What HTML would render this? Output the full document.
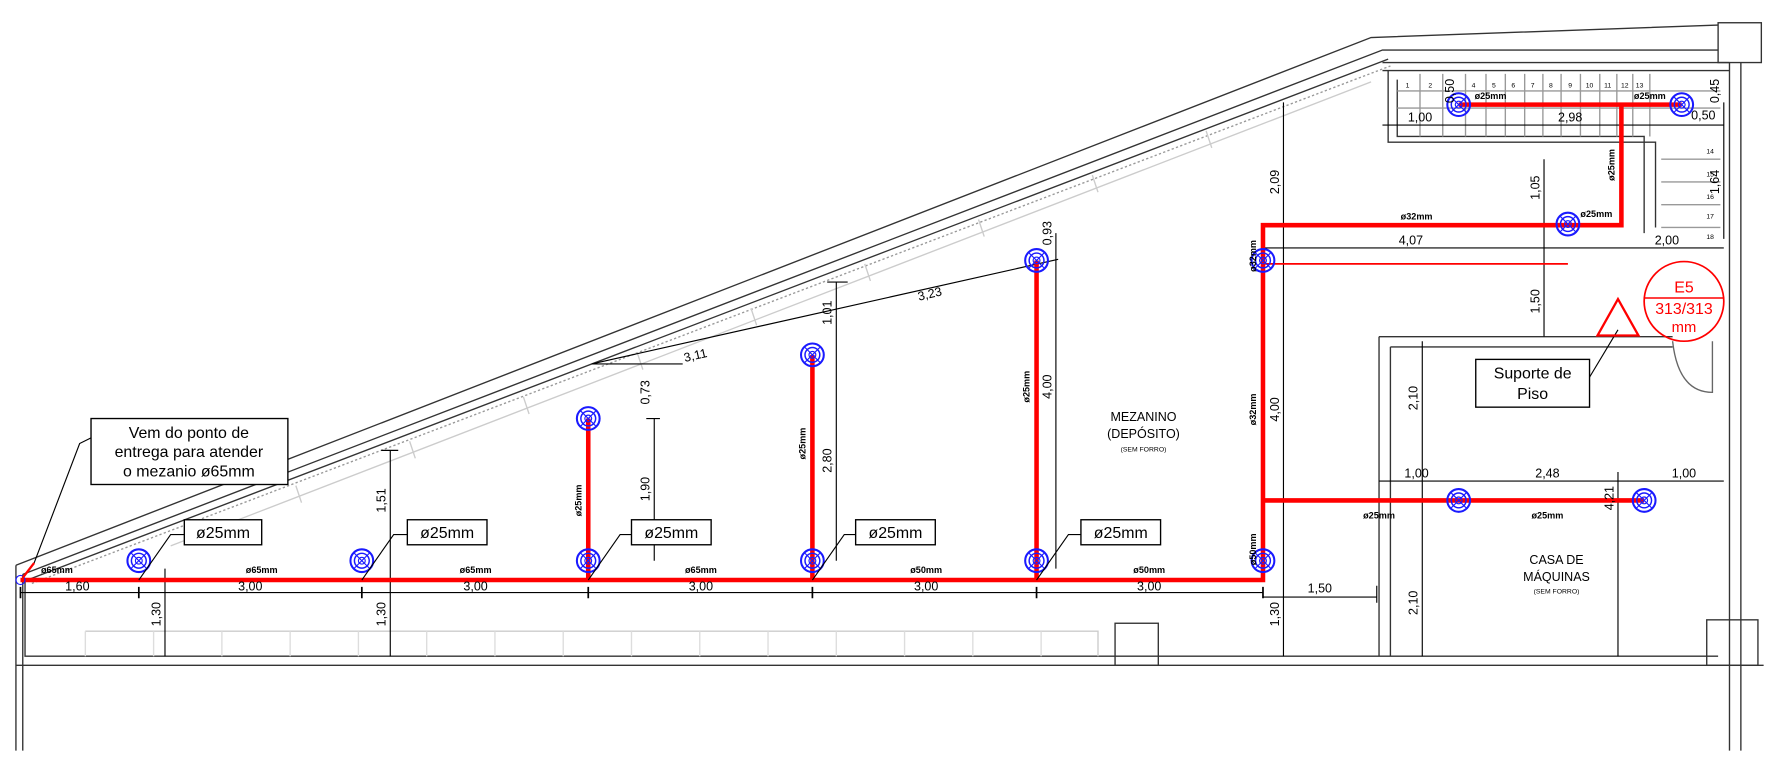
<!DOCTYPE html>
<html><head><meta charset="utf-8"><style>
html,body{margin:0;padding:0;background:#fff;}
svg{display:block;}
text{font-family:"Liberation Sans",sans-serif;fill:#000;}
.d{font-size:11px;}
.s{font-size:8px;font-weight:bold;}
</style></head><body>
<svg width="1775" height="762" viewBox="0 0 1560 670" preserveAspectRatio="none" xmlns="http://www.w3.org/2000/svg">
<defs>
<g id="sp"><circle r="10" fill="none" stroke="#1a1aff" stroke-width="1.8"/><circle r="6.5" fill="none" stroke="#1a1aff" stroke-width="1.3"/><circle r="3" fill="none" stroke="#1a1aff" stroke-width="1"/><path d="M-7,-7L7,7M-7,7L7,-7" stroke="#1a1aff" stroke-width="1"/></g>
</defs>
<g fill="none" stroke="#333" stroke-width="1.2">
<!-- roof -->
<path d="M14,497 L1205,33 L1510,22"/>
<path d="M20,505 L1215,44 L1510,44"/>
<path d="M24,510 L1220,52"/>
<path d="M28,513 L1222,58" stroke="#999" stroke-dasharray="2,2"/>
<path d="M150,480 L1205,72" stroke="#ccc"/>
<g stroke="#ccc">
<path d="M260,427 L265,442 M360,388 L365,403 M460,349 L465,364 M560,310 L565,325 M660,271 L665,286 M760,232 L765,247 M860,193 L865,208 M960,154 L965,169 M1060,115 L1065,130"/>
</g>
<!-- walls -->
<path d="M14,497 V660 M20,505 V660"/>
<path d="M22,510 V577 H1510"/>
<path d="M14,585 H1550"/>
<path d="M1520,55 V660 M1530,55 V660"/>
<rect x="1510" y="20" width="38" height="35"/>
<rect x="980" y="548" width="38" height="37"/>
<rect x="1500" y="545" width="45" height="40"/>
<path d="M75,555 H965 V577" stroke="#ccc"/>
<path d="M75,555V577M135,555V577M195,555V577M255,555V577M315,555V577M375,555V577M435,555V577M495,555V577M555,555V577M615,555V577M675,555V577M735,555V577M795,555V577M855,555V577M915,555V577" stroke="#ddd"/>
<!-- stair -->
<path d="M1215,55 H1520 M1215,62 H1520 M1220,62 V125 H1455 V200 M1228,70 V120 H1445 V205"/>
<path d="M1228,80 H1512 M1228,95 H1512" stroke="#999"/>
<path d="M1248,65V120M1268,65V120M1288,65V120M1306,65V120M1323,65V120M1340,65V120M1356,65V120M1372,65V120M1389,65V120M1406,65V120M1421,65V120M1435,65V120M1450,65V120" stroke="#999"/>
<path d="M1460,140 H1512 M1460,160 H1512 M1460,180 H1512 M1460,200 H1512" stroke="#999"/>
<!-- machine room -->
<path d="M1212,296 H1470 M1212,296 V577 M1222,305 V577 M1222,305 H1470"/>
<path d="M1470,300 Q1475,345 1505,345 V300" stroke="#666"/>
<!-- dims -->
<g stroke="#000" stroke-width="1">
<path d="M18,521 H1110 M1110,525 H1210 M1210,515 V530"/>
<path d="M145,500 V577 M343,396 V577 M1128,90 V577 M335,396 H350"/>
<path d="M575,368 V493 M735,248 V493 M928,205 V500 M568,368 H580 M727,248 H745"/>
<path d="M520,320 L930,228 M520,320 H600"/>
<path d="M1357,140 V296 M1110,218 H1515 M1250,300 V577 M1422,415 V577 M1212,423 H1515 M1215,110 H1515 M1515,90 V210"/>
</g>
</g>
<g stroke="#000" stroke-width="1.5">
<path d="M18,516V526M122,516V526M318,516V526M517,516V526M714,516V526M911,516V526M1110,516V526"/>
</g>
<!-- red pipes -->
<g stroke="#f00" stroke-width="4" fill="none">
<path d="M18,510 H1110 V198 H1425 V92"/>
<path d="M1282,92 H1478"/>
<path d="M1110,440 H1445"/>
<path d="M517,510 V368 M714,510 V312 M911,510 V229"/>
</g>
<path d="M1110,232 H1378" stroke="#f00" stroke-width="1.5"/>
<use href="#sp" x="122" y="493"/><use href="#sp" x="318" y="493"/><use href="#sp" x="517" y="493"/>
<use href="#sp" x="714" y="493"/><use href="#sp" x="911" y="493"/><use href="#sp" x="1110" y="493"/>
<use href="#sp" x="517" y="368"/><use href="#sp" x="714" y="312"/><use href="#sp" x="911" y="229"/>
<use href="#sp" x="1110" y="229"/><use href="#sp" x="1378" y="197"/><use href="#sp" x="1282" y="92"/>
<use href="#sp" x="1478" y="92"/><use href="#sp" x="1282" y="440"/><use href="#sp" x="1445" y="440"/>
<circle cx="18" cy="510" r="4" fill="none" stroke="#1a1aff"/>
<g stroke="#000" fill="none">
<path d="M80,385 L70,390 L30,495"/>
<path d="M122,510 L150,470 H162 M318,510 L346,470 H358 M517,510 L545,470 H555 M714,510 L742,470 H752 M911,510 L939,470 H950"/>
<path d="M1422,290 L1395,335"/>
</g>
<path d="M30,495 L20,508" stroke="#f00" stroke-width="2"/>
<g fill="#fff" stroke="#000" stroke-width="1.2">
<rect x="80" y="368" width="173" height="58"/>
<rect x="162" y="457" width="68" height="22"/><rect x="358" y="457" width="70" height="22"/>
<rect x="555" y="457" width="70" height="22"/><rect x="752" y="457" width="70" height="22"/>
<rect x="950" y="457" width="70" height="22"/>
<rect x="1297" y="316" width="100" height="42"/>
</g>
<text x="166" y="385" font-size="14" text-anchor="middle">Vem do ponto de</text>
<text x="166" y="402" font-size="14" text-anchor="middle">entrega para atender</text>
<text x="166" y="419" font-size="14" text-anchor="middle">o mezanio ø65mm</text>
<g font-size="14" text-anchor="middle">
<text x="196" y="473">ø25mm</text><text x="393" y="473">ø25mm</text><text x="590" y="473">ø25mm</text><text x="787" y="473">ø25mm</text><text x="985" y="473">ø25mm</text>
<text x="1347" y="333">Suporte de</text><text x="1347" y="351">Piso</text>
</g>
<circle cx="1480" cy="265" r="35" fill="none" stroke="#f00" stroke-width="1.5"/>
<path d="M1445,262 H1515" stroke="#f00" stroke-width="1.3"/>
<text x="1480" y="257" font-size="14" text-anchor="middle" style="fill:#f00">E5</text>
<text x="1480" y="276" font-size="14" text-anchor="middle" style="fill:#f00">313/313</text>
<text x="1480" y="292" font-size="13" text-anchor="middle" style="fill:#f00">mm</text>
<path d="M1422,263 L1440,295 H1404 Z" fill="none" stroke="#f00" stroke-width="2"/>
<g text-anchor="middle">
<text x="1005" y="370" font-size="11">MEZANINO</text><text x="1005" y="385" font-size="11">(DEPÓSITO)</text><text x="1005" y="397" font-size="6">(SEM FORRO)</text>
<text x="1368" y="496" font-size="11">CASA DE</text><text x="1368" y="511" font-size="11">MÁQUINAS</text><text x="1368" y="522" font-size="6">(SEM FORRO)</text>
</g>
<g class="s" text-anchor="middle">
<text x="50" y="504">ø65mm</text><text x="230" y="504">ø65mm</text><text x="418" y="504">ø65mm</text><text x="616" y="504">ø65mm</text><text x="814" y="504">ø50mm</text><text x="1010" y="504">ø50mm</text>
<text x="1245" y="193">ø32mm</text><text x="1403" y="191">ø25mm</text><text x="1310" y="87">ø25mm</text><text x="1450" y="87">ø25mm</text>
<text x="1212" y="456">ø25mm</text><text x="1360" y="456">ø25mm</text>
<text transform="translate(511,440) rotate(-90)">ø25mm</text>
<text transform="translate(708,390) rotate(-90)">ø25mm</text>
<text transform="translate(905,340) rotate(-90)">ø25mm</text>
<text transform="translate(1104,360) rotate(-90)">ø32mm</text>
<text transform="translate(1104,225) rotate(-90)">ø32mm</text>
<text transform="translate(1104,483) rotate(-90)">ø50mm</text>
<text transform="translate(1419,145) rotate(-90)">ø25mm</text>
</g>
<g class="d" text-anchor="middle">
<text x="68" y="519">1,60</text><text x="220" y="519">3,00</text><text x="418" y="519">3,00</text><text x="616" y="519">3,00</text><text x="814" y="519">3,00</text><text x="1010" y="519">3,00</text>
<text x="1160" y="521">1,50</text>
<text x="612" y="316" transform="rotate(-13 612 316)">3,11</text><text x="818" y="262" transform="rotate(-13 818 262)">3,23</text>
<text x="1240" y="215">4,07</text><text x="1465" y="215">2,00</text>
<text x="1245" y="420">1,00</text><text x="1360" y="420">2,48</text><text x="1480" y="420">1,00</text>
<text x="1248" y="107">1,00</text><text x="1380" y="107">2,98</text><text x="1497" y="105">0,50</text>
<text transform="translate(141,540) rotate(-90)">1,30</text>
<text transform="translate(339,540) rotate(-90)">1,30</text>
<text transform="translate(339,440) rotate(-90)">1,51</text>
<text transform="translate(1124,540) rotate(-90)">1,30</text>
<text transform="translate(1124,160) rotate(-90)">2,09</text>
<text transform="translate(1124,360) rotate(-90)">4,00</text>
<text transform="translate(571,430) rotate(-90)">1,90</text>
<text transform="translate(571,345) rotate(-90)">0,73</text>
<text transform="translate(731,275) rotate(-90)">1,01</text>
<text transform="translate(731,405) rotate(-90)">2,80</text>
<text transform="translate(924,205) rotate(-90)">0,93</text>
<text transform="translate(924,340) rotate(-90)">4,00</text>
<text transform="translate(1353,165) rotate(-90)">1,05</text>
<text transform="translate(1353,265) rotate(-90)">1,50</text>
<text transform="translate(1246,350) rotate(-90)">2,10</text>
<text transform="translate(1246,530) rotate(-90)">2,10</text>
<text transform="translate(1418,438) rotate(-90)">4,21</text>
<text transform="translate(1511,160) rotate(-90)">1,64</text>
<text transform="translate(1511,80) rotate(-90)">0,45</text>
<text transform="translate(1278,80) rotate(-90)">0,50</text>
</g>
<g font-size="6" text-anchor="middle">
<text x="1237" y="77">1</text><text x="1257" y="77">2</text><text x="1295" y="77">4</text><text x="1313" y="77">5</text><text x="1330" y="77">6</text><text x="1347" y="77">7</text><text x="1363" y="77">8</text><text x="1380" y="77">9</text><text x="1397" y="77">10</text><text x="1413" y="77">11</text><text x="1428" y="77">12</text><text x="1441" y="77">13</text>
<text x="1503" y="135">14</text><text x="1503" y="155">15</text><text x="1503" y="175">16</text><text x="1503" y="192">17</text><text x="1503" y="210">18</text>
</g>
</svg>
</body></html>
